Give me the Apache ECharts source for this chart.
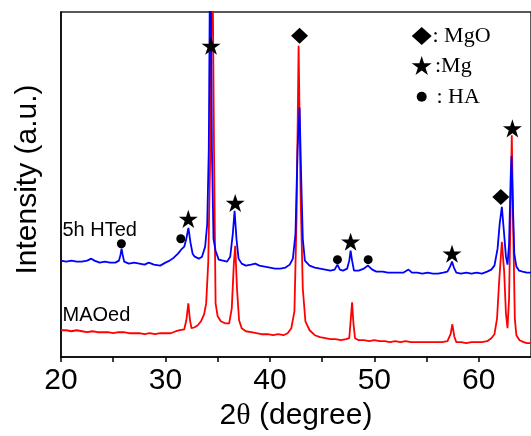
<!DOCTYPE html>
<html><head><meta charset="utf-8">
<script src="https://cdn.jsdelivr.net/npm/echarts@6/dist/echarts.min.js"></script>
<style>html,body{margin:0;padding:0;background:#fff}#c{width:531px;height:436px}</style>
</head><body><div id="c"></div>
<script>
// ---- data ----
const htTheta = [20.0,20.5,21.0,21.5,22.0,22.5,22.9,23.2,23.7,24.2,24.7,25.2,25.55,25.7,25.8,25.9,26.05,26.5,27.0,27.5,28.0,28.4,28.9,29.5,30.0,30.4,30.8,31.2,31.5,31.8,32.0,32.2,32.4,32.6,32.8,33.2,33.5,33.8,34.0,34.15,34.3,34.45,34.6,34.8,35.1,35.5,35.9,36.2,36.45,36.62,36.8,37.0,37.3,37.7,38.2,38.6,39.0,39.5,40.0,40.5,41.0,41.5,41.9,42.2,42.45,42.65,42.84,43.0,43.15,43.35,43.8,44.3,44.8,45.3,45.8,46.2,46.47,46.7,47.0,47.4,47.6,47.73,47.87,48.05,48.5,49.0,49.4,49.8,50.2,50.8,51.3,51.8,52.3,52.8,53.27,53.6,54.1,54.6,55.1,55.6,56.1,56.6,57.0,57.25,57.44,57.62,57.85,58.3,58.8,59.3,59.8,60.3,60.8,61.2,61.5,61.8,62.0,62.21,62.4,62.6,62.75,62.9,63.05,63.13,63.25,63.4,63.6,63.85,64.2,64.6,65.0];
const htIntensity = [97,96,97,96,96,97,99,97,95,96,95,95,97,103,109,103,96,94,95,94,93,95,93,92,95,97,100,104,108,111,119,130,115,104,101,99,101,111,134,209,450,209,119,107,98,97,96,101,124,147,119,99,94,92,93,94,92,91,90,89,89,90,93,99,124,209,251,179,119,97,92,90,89,88,87,88,93,88,87,89,97,107,97,87,87,89,92,88,86,86,85,85,85,85,88,85,85,84,85,84,84,85,86,91,96,90,85,84,85,84,85,84,86,88,92,109,134,151,127,101,93,114,179,202,159,104,91,87,86,85,85];

const maoTheta = [20.0,20.5,21.0,21.5,22.0,22.5,23.0,23.5,24.0,24.5,25.0,25.5,26.0,26.5,27.0,27.5,28.0,28.5,29.0,29.5,30.0,30.5,31.0,31.4,31.8,32.0,32.19,32.35,32.5,32.8,33.1,33.4,33.7,33.9,34.1,34.3,34.47,34.65,34.8,35.0,35.3,35.7,36.1,36.35,36.55,36.68,36.85,37.05,37.3,37.7,38.2,38.7,39.2,39.8,40.3,40.8,41.3,41.7,42.05,42.35,42.55,42.75,42.95,43.15,43.4,43.8,44.3,44.8,45.3,45.8,46.3,46.8,47.3,47.6,47.75,47.87,48.0,48.15,48.5,49.0,49.5,50.0,50.5,51.0,51.5,52.0,52.5,53.0,53.5,54.0,54.5,55.0,55.5,56.0,56.5,57.0,57.3,57.47,57.65,57.85,58.3,58.8,59.3,59.8,60.3,60.8,61.2,61.5,61.75,61.95,62.21,62.43,62.6,62.75,62.9,63.0,63.16,63.3,63.45,63.6,63.9,64.3,64.6,65.0];
const maoIntensity = [27,27,26,27,26,25,26,25,25,25,24,25,25,24,24,24,23,24,23,24,24,24,26,27,28,37,54,37,29,30,32,36,43,54,96,209,450,209,54,41,36,34,34,49,94,112,69,37,29,26,25,24,23,23,22,23,22,24,29,46,139,313,159,69,36,27,22,20,19,18,18,17,18,19,39,55,34,19,17,17,16,17,16,16,15,16,15,16,15,15,15,15,15,15,15,16,23,33,21,15,15,14,15,15,15,16,19,23,39,76,116,86,44,29,59,119,223,129,39,22,17,15,14,14];

// phase marks above the peaks
const mgTheta = [32.19, 34.37, 36.68, 47.73, 57.44, 63.22];
const mgIntensity = [139, 313, 155, 116, 104, 230];
const mgoTheta = [42.84, 62.11];
const mgoIntensity = [323, 161];
const haTheta = [25.78, 31.47, 46.47, 49.41];
const haIntensity = [114, 119, 98, 98];

const xTicks = [20, 30, 40, 50, 60];
const seriesNames = ['5h HTed', 'MAOed'];
const legendNames = [': MgO', ':Mg', ': HA'];

// ---- chart ----
const chart = echarts.init(document.getElementById('c'), null, {renderer: 'canvas'});
const STAR = 'path://M50,0 L61.23,34.55 L97.55,34.55 L68.17,55.9 L79.39,90.45 L50,69.1 L20.61,90.45 L31.83,55.9 L2.45,34.55 L38.77,34.55 Z';
function zip(a, b) { return a.map((v, i) => [v, b[i]]); }
function starPts(cx, cy, R) {
  const r = R * 0.382, pts = [];
  for (let i = 0; i < 10; i++) {
    const ang = (-90 + i * 36) * Math.PI / 180;
    const rr = i % 2 ? r : R;
    pts.push([cx + rr * Math.cos(ang), cy + rr * Math.sin(ang)]);
  }
  return pts;
}
const sans = 'Liberation Sans';
const serif = 'Liberation Serif';
function txt(x, y, text, font) {
  return {type: 'text', x: x, y: y, z: 10,
    style: {text: text, fill: '#000', font: font, align: 'left', verticalAlign: 'middle',
            textAlign: 'left', textVerticalAlign: 'middle'}};
}

const option = {
  animation: false,
  backgroundColor: '#fff',
  grid: {left: 61, top: 12, right: -4.5, bottom: 77.3, show: true,
         borderColor: '#222', borderWidth: 1.5, backgroundColor: 'transparent'},
  xAxis: {
    type: 'value', min: 20, max: 65, interval: 5,
    axisLine: {lineStyle: {color: '#000', width: 1.5}},
    axisTick: {length: 5, lineStyle: {color: '#000', width: 1.5}},
    axisLabel: {formatter: v => xTicks.indexOf(v) >= 0 ? String(v) : '',
                fontFamily: sans, fontSize: 30, color: '#000', margin: 9, showMaxLabel: false},
    splitLine: {show: false},
    name: '{a|2}{b|θ}{a| (degree)}', nameLocation: 'middle', nameGap: 42,
    nameTextStyle: {rich: {a: {fontFamily: sans, fontSize: 30, color: '#000'},
                           b: {fontFamily: serif, fontSize: 30, color: '#000'}}}
  },
  yAxis: {
    type: 'value', min: 0, max: 347,
    axisLine: {show: true, lineStyle: {color: '#000', width: 1.5}},
    axisTick: {show: false}, axisLabel: {show: false}, splitLine: {show: false},
    name: 'Intensity (a.u.)', nameLocation: 'middle', nameGap: 18,
    nameTextStyle: {fontFamily: sans, fontSize: 30, color: '#000', padding: [0, 0, 0, 10]}
  },
  series: [
    {name: seriesNames[1], type: 'line', data: zip(maoTheta, maoIntensity), symbol: 'none',
     lineStyle: {color: '#ff0000', width: 1.8}, itemStyle: {color: '#ff0000'}, clip: true, z: 2},
    {name: seriesNames[0], type: 'line', data: zip(htTheta, htIntensity), symbol: 'none',
     lineStyle: {color: '#0000ff', width: 1.8}, itemStyle: {color: '#0000ff'}, clip: true, z: 3},
    {name: 'Mg', type: 'scatter', data: zip(mgTheta, mgIntensity), symbol: STAR, symbolSize: 19,
     symbolKeepAspect: true, itemStyle: {color: '#000', opacity: 1}, clip: false, z: 5},
    {name: 'MgO', type: 'scatter', data: zip(mgoTheta, mgoIntensity), symbol: 'diamond', symbolSize: [17, 16],
     itemStyle: {color: '#000', opacity: 1}, clip: false, z: 5},
    {name: 'HA', type: 'scatter', data: zip(haTheta, haIntensity), symbol: 'circle', symbolSize: 9,
     itemStyle: {color: '#000', opacity: 1}, clip: false, z: 5}
  ],
  graphic: [
    {type: 'polygon', z: 10, shape: {points: [[411.7, 36], [421.7, 27], [431.7, 36], [421.7, 45]]}, style: {fill: '#000'}},
    {type: 'polygon', z: 10, shape: {points: starPts(421.7, 66.5, 10.5)}, style: {fill: '#000'}},
    {type: 'circle', z: 10, shape: {cx: 421.7, cy: 96.7, r: 5}, style: {fill: '#000'}},
    txt(432.5, 36, legendNames[0], '22px "' + serif + '"'),
    txt(435, 66, legendNames[1], '22px "' + serif + '"'),
    txt(436.5, 97, legendNames[2], '22px "' + serif + '"'),
    txt(62.5, 230.5, seriesNames[0], '20px "' + sans + '"'),
    txt(62.5, 315, seriesNames[1], '20px "' + sans + '"')
  ]
};
chart.setOption(option);
</script>
</body></html>
